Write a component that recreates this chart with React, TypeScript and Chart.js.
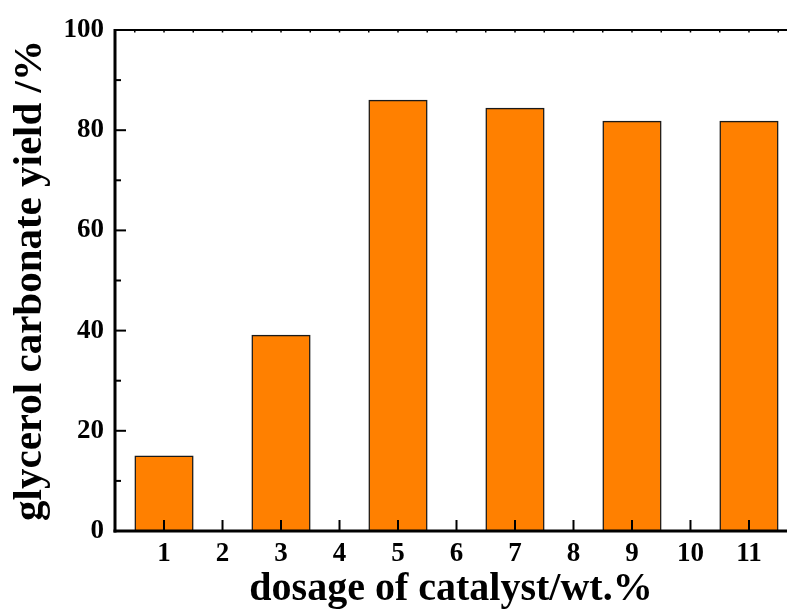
import React, { useEffect, useRef } from 'react';
import { Chart, registerables } from 'chart.js';

Chart.register(...registerables);

const dosages = [1, 3, 5, 7, 9, 11];
const yields = [15, 39.1, 86, 84.4, 81.8, 81.8];
const xTicks = [1, 2, 3, 4, 5, 6, 7, 8, 9, 10, 11];
const yTicks = [0, 20, 40, 60, 80, 100];
const yMinorTicks = [10, 30, 50, 70, 90];
const xTitle = 'dosage of catalyst/wt.%';
const yTitle = 'glycerol carbonate yield /%';

const FONT = "'Liberation Serif', 'Times New Roman', serif";

const axisPlugin = {
  id: 'originAxes',
  afterDraw(chart: any) {
    const { ctx, chartArea, scales } = chart;
    const { left, right, top, bottom } = chartArea;
    const x = scales.x;
    const y = scales.y;
    const line = (x1: number, y1: number, x2: number, y2: number) => {
      ctx.beginPath();
      ctx.moveTo(x1, y1);
      ctx.lineTo(x2, y2);
      ctx.stroke();
    };
    ctx.save();
    ctx.strokeStyle = '#000';
    ctx.lineCap = 'butt';
    // top border
    ctx.lineWidth = 2;
    line(left, top, right, top);
    // tiny top ticks
    ctx.lineWidth = 1.5;
    const topTicks = xTicks.flatMap((v) => [v - 0.5, v]).concat([xTicks[xTicks.length - 1] + 0.5]);
    topTicks.forEach((v) => {
      const px = x.getPixelForValue(v);
      if (px > left && px < right) line(px, top, px, top + 2.5);
    });
    // left & bottom axes
    ctx.lineWidth = 3;
    line(left, top - 1, left, bottom + 1.5);
    line(left - 1.5, bottom, right, bottom);
    // ticks
    ctx.lineWidth = 2;
    yTicks.forEach((v) => {
      const py = y.getPixelForValue(v);
      line(left, py, left + 11, py);
    });
    yMinorTicks.forEach((v) => {
      const py = y.getPixelForValue(v);
      line(left, py, left + 6, py);
    });
    xTicks.forEach((v) => {
      const px = x.getPixelForValue(v);
      line(px, bottom, px, bottom - 11);
    });
    ctx.restore();
  },
};

export default function App() {
  const canvasRef = useRef<HTMLCanvasElement | null>(null);

  useEffect(() => {
    const canvas = canvasRef.current;
    if (!canvas) return;
    const chart = new Chart(canvas, {
      type: 'bar',
      data: {
        datasets: [
          {
            data: dosages.map((d, i) => ({ x: d, y: yields[i] })),
            backgroundColor: 'rgb(255,128,0)',
            borderColor: '#1a1a1a',
            borderWidth: 1.5,
            barPercentage: 1,
            categoryPercentage: 1,
          },
        ],
      },
      options: {
        animation: false,
        responsive: false,
        devicePixelRatio: 1,
        layout: { padding: { top: 30, left: 0, right: 0, bottom: 0 } },
        plugins: {
          legend: { display: false },
          tooltip: { enabled: false },
          title: { display: false },
        },
        scales: {
          x: {
            type: 'linear',
            offset: false,
            min: 0.162,
            max: 11.65,
            afterBuildTicks: (s: any) => {
              s.ticks = xTicks.map((v) => ({ value: v }));
            },
            afterFit: (s: any) => {
              s.height = 79;
            },
            grid: { display: false, drawTicks: false },
            border: { display: false },
            ticks: {
              autoSkip: false,
              maxRotation: 0,
              padding: 7,
              color: '#000',
              font: { family: FONT, size: 27, weight: 'bold' },
              callback: (v: any) => String(v),
            },
            title: {
              display: true,
              text: xTitle,
              color: '#000',
              padding: 0,
              font: { family: FONT, size: 40, weight: 'bold', lineHeight: 1 },
            },
          },
          y: {
            type: 'linear',
            min: 0,
            max: 100,
            afterBuildTicks: (s: any) => {
              s.ticks = yTicks.map((v) => ({ value: v }));
            },
            afterFit: (s: any) => {
              s.width = 115;
            },
            grid: { display: false, drawTicks: false },
            border: { display: false },
            ticks: {
              padding: 11,
              color: '#000',
              font: { family: FONT, size: 27, weight: 'bold' },
            },
            title: {
              display: true,
              text: yTitle,
              color: '#000',
              padding: { top: 10, bottom: 0 },
              font: { family: FONT, size: 41, weight: 'bold', lineHeight: 1 },
            },
          },
        },
      },
      plugins: [axisPlugin],
    } as any);
    return () => chart.destroy();
  }, []);

  return (
    <div style={{ position: 'fixed', left: 0, top: 0, width: 787, height: 610, background: '#fff' }}>
      <canvas ref={canvasRef} width={787} height={610} style={{ display: 'block' }} />
    </div>
  );
}
